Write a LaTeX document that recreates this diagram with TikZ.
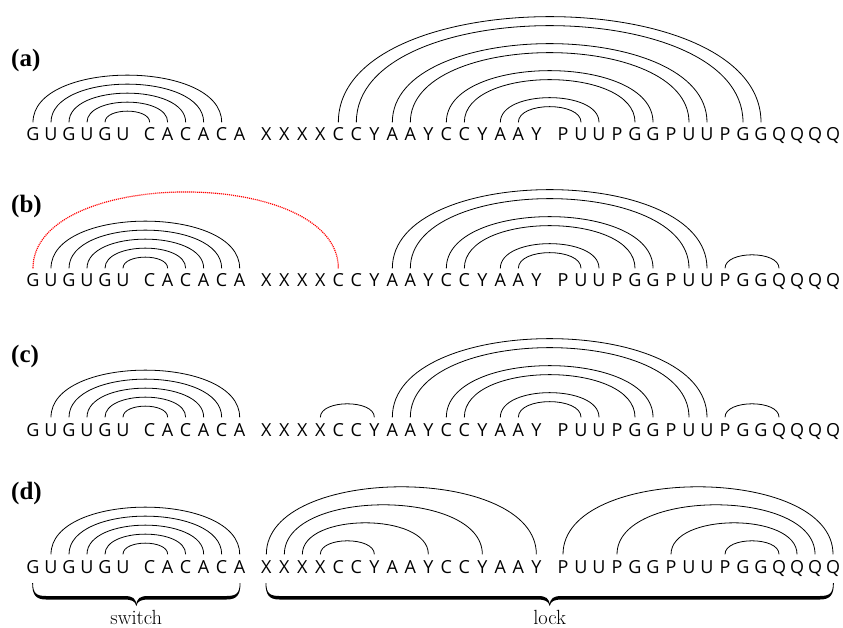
\documentclass[tikz,border=0pt]{standalone}
\usepackage{fontspec}
\usetikzlibrary{calc}
\newfontfamily\seqfont{Open Sans}
\newfontfamily\labfont{Liberation Serif}

% one sequence row: #1 = name prefix, #2 = baseline
\newcommand\seqrow[2]{%
  \foreach \ch [count=\i from 0] in {G,U,G,U,G,U,C,A,C,A,C,A,X,X,X,X,C,C,Y,A,A,Y,C,C,Y,A,A,Y,P,U,U,P,G,G,P,U,U,P,G,G,Q,Q,Q,Q} {%
    \pgfmathsetmacro\grp{(\i>5)+(\i>11)+(\i>27)}%
    \node[letter] (#1\i) at ({33+18*\i+8.67*\grp},#2) {\ch};
  }}
% base pairs: #1 = row prefix, #2 = list of i/j, #3 = line style
\newcommand\pairs[3]{%
  \foreach \ia/\ib in {#2} {%
    \draw[#3] let \p1=(#1\ia.north), \p2=(#1\ib.north), \n1={(\x2-\x1)/3} in
      (#1\ia.north) .. controls +(0,\n1) and +(0,\n1) .. (#1\ib.north);
  }}
% filled under-brace from letter #1 to letter #2 (thin hooks, heavy bar)
\newcommand\underbr[2]{%
  \fill let \p1=(#1.base), \p2=(#2.base), \p3=($(#1.base)!0.5!(#2.base)$) in
    ({\x1},{\y1-10pt})
    .. controls ({\x1},{\y1-20pt}) and ({\x1+3pt},{\y1-23pt}) .. ({\x1+13pt},{\y1-23pt})
    -- ({\x3-12pt},{\y1-23pt})
    .. controls ({\x3-4pt},{\y1-23pt}) and ({\x3},{\y1-25pt}) .. ({\x3},{\y1-33pt})
    .. controls ({\x3},{\y1-25pt}) and ({\x3+4pt},{\y1-23pt}) .. ({\x3+12pt},{\y1-23pt})
    -- ({\x2-13pt},{\y1-23pt})
    .. controls ({\x2-3pt},{\y1-23pt}) and ({\x2},{\y1-20pt}) .. ({\x2},{\y1-10pt})
    -- ({\x2+0.8pt},{\y1-10pt})
    .. controls ({\x2+0.8pt},{\y1-22pt}) and ({\x2-3pt},{\y1-26.5pt}) .. ({\x2-13pt},{\y1-26.5pt})
    -- ({\x3+12pt},{\y1-26.5pt})
    .. controls ({\x3+5pt},{\y1-26.5pt}) and ({\x3+1pt},{\y1-28pt}) .. ({\x3},{\y1-33pt})
    .. controls ({\x3-1pt},{\y1-28pt}) and ({\x3-5pt},{\y1-26.5pt}) .. ({\x3-12pt},{\y1-26.5pt})
    -- ({\x1+13pt},{\y1-26.5pt})
    .. controls ({\x1+3pt},{\y1-26.5pt}) and ({\x1-0.8pt},{\y1-22pt}) .. ({\x1-0.8pt},{\y1-10pt})
    -- cycle;}

\begin{document}
\begin{tikzpicture}[x=1pt,y=-1pt,
  letter/.style={font=\seqfont\fontsize{18}{18}\selectfont, anchor=base,
    inner xsep=0pt, inner ysep=5.5pt, text height=13pt, text depth=0pt},
  panel/.style={font=\labfont\bfseries\fontsize{25}{25}\selectfont, anchor=base west, inner sep=0pt},
  bond/.style={line width=0.8pt, black},
  pseudo/.style={line width=1.2pt, red, dash pattern=on 1.1pt off 0.9pt},
  regionlabel/.style={font=\fontsize{20.5}{20.5}\selectfont, anchor=base, inner sep=0pt}]
\useasboundingbox (0,0) rectangle (843,628);

% (a)
\node[panel] (la) at (11,67) {(a)};
\seqrow{a}{141}
\pairs{a}{0/10,1/9,2/8,3/7,4/6}{bond}
\pairs{a}{16/39,17/38,19/36,20/35,22/33,23/32,25/30,26/29}{bond}

% (b)
\node[panel] (lb) at (11,213) {(b)};
\seqrow{b}{287}
\pairs{b}{0/16}{pseudo}
\pairs{b}{1/11,2/10,3/9,4/8,5/7}{bond}
\pairs{b}{19/36,20/35,22/33,23/32,25/30,26/29,37/40}{bond}

% (c)
\node[panel] (lc) at (11,362) {(c)};
\seqrow{c}{436}
\pairs{c}{1/11,2/10,3/9,4/8,5/7}{bond}
\pairs{c}{15/18}{bond}
\pairs{c}{19/36,20/35,22/33,23/32,25/30,26/29,37/40}{bond}

% (d)
\node[panel] (ld) at (11,499) {(d)};
\seqrow{d}{573}
\pairs{d}{1/11,2/10,3/9,4/8,5/7}{bond}
\pairs{d}{12/27,13/24,14/21,15/18}{bond}
\pairs{d}{28/43,31/42,34/41,37/40}{bond}

% regions
\underbr{d0}{d11}
\underbr{d12}{d43}
\node[regionlabel] (sw) at ($(d0.base)!0.5!(d11.base)+(0,51.5)$) {switch};
\node[regionlabel] (lk) at ($(d12.base)!0.5!(d43.base)+(0,51.5)$) {lock};
\end{tikzpicture}
\end{document}
